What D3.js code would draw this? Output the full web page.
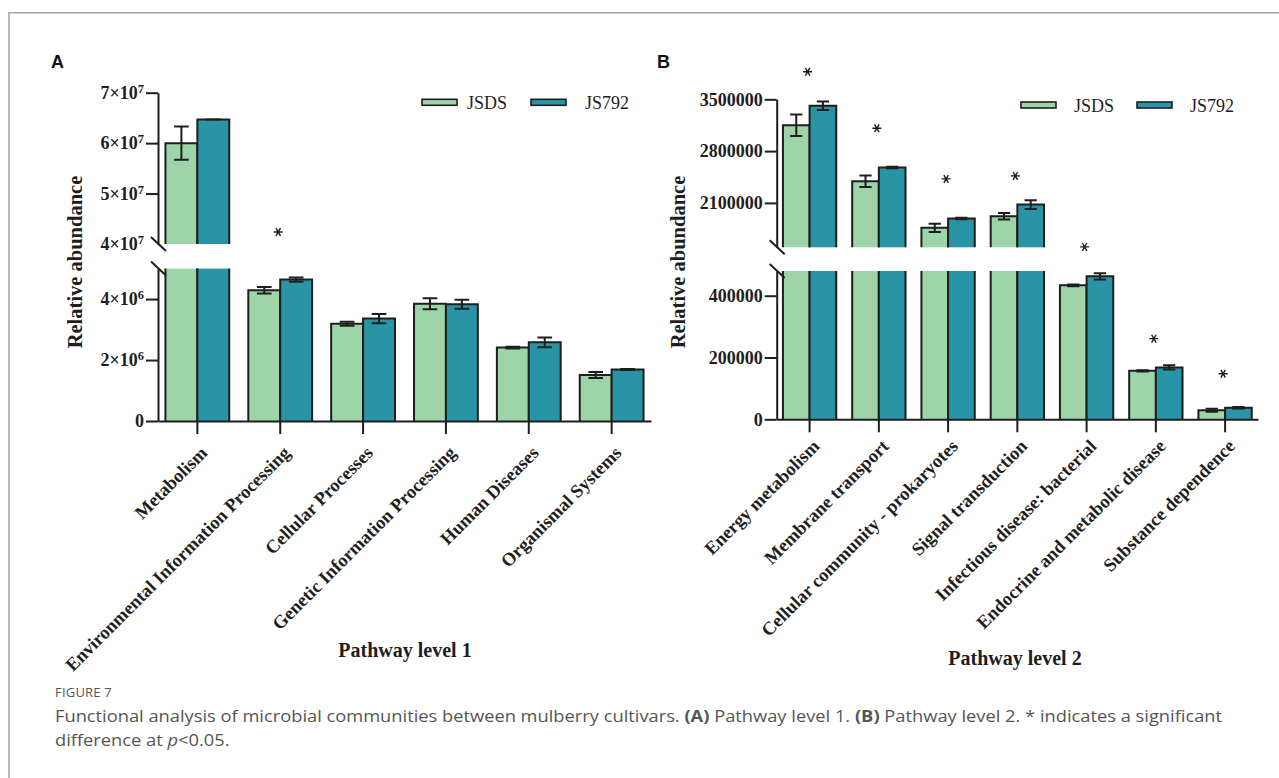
<!DOCTYPE html>
<html><head><meta charset="utf-8">
<script src="https://cdn.jsdelivr.net/npm/d3@7"></script>
<style>body{margin:0;background:#fff;} svg{display:block}</style>
</head><body>
<svg id="chart" width="1279" height="778"></svg>
<script>
// ---------- DATA ----------
const seriesNames = ["JSDS", "JS792"];
const seriesColors = ["#9dd4a8", "#2a94a7"];

// Panel A: Pathway level 1
const catsA = ["Metabolism", "Environmental Information Processing", "Cellular Processes",
  "Genetic Information Processing", "Human Diseases", "Organismal Systems"];
const jsdsA = [6.0e7, 4.29e6, 3.19e6, 3.85e6, 2.41e6, 1.51e6];
const jsdsErrA = [3.3e6, 0.11e6, 0.065e6, 0.18e6, 0.03e6, 0.1e6];
const js792A = [6.47e7, 4.64e6, 3.36e6, 3.83e6, 2.58e6, 1.69e6];
const js792ErrA = [0, 0.07e6, 0.15e6, 0.15e6, 0.16e6, 0.02e6];
const sigA = [null, 6.2e6, null, null, null, null]; // level of "*" marker
const lowerTicksA = [0, 2e6, 4e6];
const upperTicksA = [4e7, 5e7, 6e7, 7e7];
const lowerDomainA = [0, 5e6];
const upperDomainA = [4e7, 7e7];

// Panel B: Pathway level 2
const catsB = ["Energy metabolism", "Membrane transport", "Cellular community - prokaryotes",
  "Signal transduction", "Infectious disease: bacterial", "Endocrine and metabolic disease",
  "Substance dependence"];
const jsdsB = [3150000, 2393000, 1763000, 1920000, 433500, 157000, 29300];
const jsdsErrB = [145000, 77000, 56000, 45000, 3000, 2000, 4500];
const js792B = [3414000, 2577000, 1889000, 2077000, 462800, 167800, 37700];
const js792ErrB = [57000, 10000, 10000, 60000, 10000, 7000, 2500];
const sigB = [3872000, 3109000, 2424000, 2465000, 558000, 261100, 147300];
const lowerTicksB = [0, 200000, 400000];
const upperTicksB = [2100000, 2800000, 3500000];
const lowerDomainB = [0, 480000];
const upperDomainB = [1500000, 3500000];

// ---------- DRAW ----------
const svg = d3.select("#chart");
const INK = "#1e1e1e";
const SERIF = "'Liberation Serif','Times New Roman',serif";

// outer frame
svg.append("path").attr("d", "M9,778 V12.7 H1279")
  .attr("fill", "none").attr("stroke", "#a3a3a3").attr("stroke-width", 1.5);

function drawPanel(c) {
  const g = svg.append("g");
  const lower = d3.scaleLinear().domain(c.lowerDomain).range(c.lowerRange);
  const upper = d3.scaleLinear().domain(c.upperDomain).range(c.upperRange);
  const x = d3.scaleBand().domain(c.cats).range([c.axisX, c.xEnd])
    .paddingInner(0.23).paddingOuter(0.09);
  const bw = x.bandwidth(), w = bw / 2;
  const lowerMax = c.lowerDomain[1], upperMin = c.upperDomain[0];
  const base = lower(0), lowerTop = lower(lowerMax), upperBottom = upper(upperMin);

  // bars
  c.series.forEach((vals, si) => {
    c.cats.forEach((cat, i) => {
      const v = vals[i];
      const bx = x(cat) + si * w;
      const fill = seriesColors[si];
      if (v <= lowerMax) {
        g.append("rect").attr("x", bx).attr("y", lower(v)).attr("width", w)
          .attr("height", base - lower(v)).attr("fill", fill);
        g.append("path").attr("d", `M${bx},${base}V${lower(v)}H${bx + w}V${base}`)
          .attr("fill", "none").attr("stroke", INK).attr("stroke-width", 2);
      } else {
        g.append("rect").attr("x", bx).attr("y", lowerTop).attr("width", w)
          .attr("height", base - lowerTop).attr("fill", fill);
        g.append("path").attr("d", `M${bx},${base}V${lowerTop}M${bx + w},${lowerTop}V${base}`)
          .attr("fill", "none").attr("stroke", INK).attr("stroke-width", 2);
        const top = upper(v);
        g.append("rect").attr("x", bx).attr("y", top).attr("width", w)
          .attr("height", upperBottom - top).attr("fill", fill);
        g.append("path").attr("d", `M${bx},${upperBottom}V${top}H${bx + w}V${upperBottom}`)
          .attr("fill", "none").attr("stroke", INK).attr("stroke-width", 2);
      }
      // error bar
      const e = c.errs[si][i];
      const s = v > lowerMax ? upper : lower;
      const cx = bx + w / 2, cw = w * 0.46;
      const y1 = s(v + e), y2 = s(v - e);
      g.append("path")
        .attr("d", `M${cx},${y1}V${y2}M${cx - cw / 2},${y1}H${cx + cw / 2}M${cx - cw / 2},${y2}H${cx + cw / 2}`)
        .attr("fill", "none").attr("stroke", INK).attr("stroke-width", 2);
    });
  });

  // significance stars
  c.cats.forEach((cat, i) => {
    if (c.sig[i] == null) return;
    const groupMax = Math.max(c.series[0][i], c.series[1][i]);
    const s = groupMax > lowerMax ? upper : lower;
    const cx = x(cat) + bw / 2 - 2, cy = s(c.sig[i]);
    const r = 4.5;
    let d = "";
    [0, 60, 120].forEach(a => {
      const rad = a * Math.PI / 180, dx = r * Math.cos(rad), dy = r * Math.sin(rad);
      d += `M${cx - dx},${cy - dy}L${cx + dx},${cy + dy}`;
    });
    g.append("path").attr("d", d).attr("stroke", INK).attr("stroke-width", 1.4).attr("fill", "none");
  });

  // y axes (broken)
  const styleAxis = sel => {
    sel.selectAll("path,line").attr("stroke", INK).attr("stroke-width", 2);
    sel.selectAll("text").attr("fill", INK).attr("font-family", SERIF)
      .attr("font-weight", "bold").attr("font-size", 18);
  };
  const fmt = c.tickFormat;
  const ga = g.append("g").attr("transform", `translate(${c.axisX},0)`)
    .call(d3.axisLeft(lower).tickValues(c.lowerTicks).tickSize(12).tickSizeOuter(0).tickPadding(2).tickFormat(fmt));
  const gu = g.append("g").attr("transform", `translate(${c.axisX},0)`)
    .call(d3.axisLeft(upper).tickValues(c.upperTicks).tickSize(12).tickSizeOuter(0).tickPadding(2).tickFormat(fmt));
  styleAxis(ga); styleAxis(gu);
  // hide the tick at the break value
  gu.selectAll(".tick").filter(d => d === upperMin).select("line").attr("stroke", "none");
  // superscript formatting
  [ga, gu].forEach(ax => ax.selectAll(".tick text").each(function () {
    const t = d3.select(this), s = t.text();
    if (s.includes("^")) {
      const [m, ex] = s.split("^");
      t.text(null);
      t.append("tspan").text(m);
      t.append("tspan").attr("dy", "-0.5em").attr("font-size", 12.5).text(ex);
    }
  }));
  // break marks
  [upperBottom, lowerTop].forEach(yb => {
    g.append("line").attr("x1", c.axisX - 7).attr("y1", yb - 7).attr("x2", c.axisX + 8).attr("y2", yb + 7)
      .attr("stroke", INK).attr("stroke-width", 2);
  });

  // x axis
  const gx = g.append("g").attr("transform", `translate(0,${base})`)
    .call(d3.axisBottom(x).tickSize(13).tickSizeOuter(0).tickFormat(""));
  gx.selectAll("path,line").attr("stroke", INK).attr("stroke-width", 2);
  c.cats.forEach(cat => {
    const cx = x(cat) + bw / 2;
    g.append("text").attr("transform", `translate(${cx + 11},${base + c.labelDy}) rotate(-45)`)
      .attr("text-anchor", "end").attr("font-family", SERIF).attr("font-weight", "bold")
      .attr("font-size", 18.5).attr("fill", INK).text(cat);
  });

  // titles
  g.append("text").attr("x", c.titleX).attr("y", c.titleY).attr("text-anchor", "middle")
    .attr("font-family", SERIF).attr("font-weight", "bold").attr("font-size", 20).attr("fill", INK)
    .text(c.title);
  g.append("text").attr("transform", `translate(${c.ylabelX},${c.ylabelY}) rotate(-90)`)
    .attr("text-anchor", "middle").attr("font-family", SERIF).attr("font-weight", "bold")
    .attr("font-size", 20.5).attr("fill", INK).text("Relative abundance");
  g.append("text").attr("x", c.panelX).attr("y", 68).attr("font-family", "'Liberation Sans',Arial,sans-serif")
    .attr("font-weight", "bold").attr("font-size", 18).attr("fill", "#111").text(c.panel);

  // legend
  seriesNames.forEach((name, i) => {
    g.append("rect").attr("x", c.legendSwatchX[i]).attr("y", c.legendY - 3).attr("width", 35).attr("height", 6)
      .attr("fill", seriesColors[i]).attr("stroke", INK).attr("stroke-width", 1.6);
    g.append("text").attr("x", c.legendTextX[i]).attr("y", c.legendY + 6.5)
      .attr("font-family", SERIF).attr("font-size", 18).attr("fill", INK).text(name);
  });
}

const sciFmt = v => {
  if (v === 0) return "0";
  const ex = Math.floor(Math.log10(v));
  return `${Math.round(v / Math.pow(10, ex))}×10^${ex}`;
};

drawPanel({
  cats: catsA, series: [jsdsA, js792A], errs: [jsdsErrA, js792ErrA], sig: sigA,
  axisX: 158, xEnd: 651,
  lowerDomain: lowerDomainA, lowerRange: [421, 268.6],
  upperDomain: upperDomainA, upperRange: [244, 92.7],
  lowerTicks: lowerTicksA, upperTicks: upperTicksA, tickFormat: sciFmt,
  labelDy: 33, title: "Pathway level 1", titleX: 405, titleY: 657,
  ylabelX: 82, ylabelY: 262, panel: "A", panelX: 51,
  legendSwatchX: [422, 531], legendTextX: [467, 585], legendY: 102.3
});

drawPanel({
  cats: catsB, series: [jsdsB, js792B], errs: [jsdsErrB, js792ErrB], sig: sigB,
  axisX: 776.7, xEnd: 1258,
  lowerDomain: lowerDomainB, lowerRange: [419.3, 271],
  upperDomain: upperDomainB, upperRange: [247.3, 99.3],
  lowerTicks: lowerTicksB, upperTicks: upperTicksB, tickFormat: d3.format("d"),
  labelDy: 28, title: "Pathway level 2", titleX: 1015, titleY: 665,
  ylabelX: 685, ylabelY: 262, panel: "B", panelX: 657,
  legendSwatchX: [1021, 1137], legendTextX: [1074, 1190], legendY: 105
});

// caption
const cap = svg.append("g").attr("font-family", "'Open Sans','Noto Sans',sans-serif").attr("fill", "#555");
cap.append("text").attr("x", 55).attr("y", 697).attr("font-size", 13).attr("letter-spacing", 0.2).text("FIGURE 7");
const line1 = cap.append("text").attr("x", 55).attr("y", 722).attr("font-size", 16);
line1.append("tspan").text("Functional analysis of microbial communities between mulberry cultivars. ");
line1.append("tspan").attr("font-weight", "bold").text("(A)");
line1.append("tspan").text(" Pathway level 1. ");
line1.append("tspan").attr("font-weight", "bold").text("(B)");
line1.append("tspan").text(" Pathway level 2. * indicates a significant");
const line2 = cap.append("text").attr("x", 55).attr("y", 746).attr("font-size", 16);
line2.append("tspan").text("difference at ");
line2.append("tspan").attr("font-style", "italic").text("p");
line2.append("tspan").text("<0.05.");
const w1 = line1.node().getComputedTextLength();
const k = 1168 / w1;
[line1, line2].forEach(t => t.attr("transform", `translate(55,0) scale(${k},1) translate(-55,0)`));
</script>
</body></html>
